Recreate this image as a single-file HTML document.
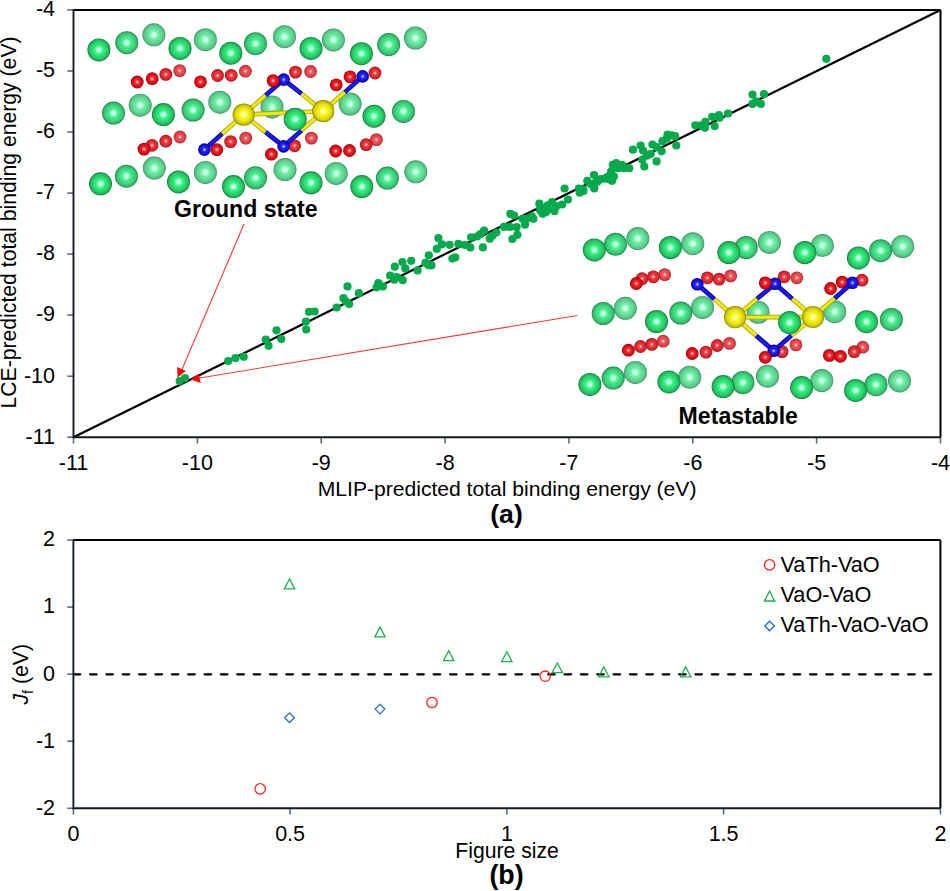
<!DOCTYPE html><html><head><meta charset="utf-8"><style>html,body{margin:0;padding:0;background:#fff;}svg{display:block;}</style></head><body><svg width="950" height="891" viewBox="0 0 950 891">
<defs><radialGradient id="gD" cx="50%" cy="50%" r="50%"><stop offset="0" stop-color="#eefffe"/><stop offset="0.13" stop-color="#d4fff4"/><stop offset="0.22" stop-color="#90ffc4"/><stop offset="0.32" stop-color="#46f88e"/><stop offset="0.42" stop-color="#34ec7c"/><stop offset="0.65" stop-color="#2ad66c"/><stop offset="0.85" stop-color="#22bc5c"/><stop offset="0.94" stop-color="#169848"/><stop offset="1" stop-color="#0a7434"/></radialGradient><radialGradient id="gM" cx="50%" cy="50%" r="50%"><stop offset="0" stop-color="#eefffe"/><stop offset="0.13" stop-color="#d8fff6"/><stop offset="0.22" stop-color="#9cffcc"/><stop offset="0.32" stop-color="#5cf69c"/><stop offset="0.42" stop-color="#4aea8c"/><stop offset="0.65" stop-color="#3ed67e"/><stop offset="0.85" stop-color="#34c06e"/><stop offset="0.94" stop-color="#279c58"/><stop offset="1" stop-color="#188044"/></radialGradient><radialGradient id="gL" cx="50%" cy="50%" r="50%"><stop offset="0" stop-color="#f0fffe"/><stop offset="0.13" stop-color="#dcfff8"/><stop offset="0.22" stop-color="#acffd6"/><stop offset="0.32" stop-color="#7ef6b0"/><stop offset="0.42" stop-color="#6eeca2"/><stop offset="0.65" stop-color="#62da94"/><stop offset="0.85" stop-color="#56c686"/><stop offset="0.94" stop-color="#48aa72"/><stop offset="1" stop-color="#2e8c5a"/></radialGradient><radialGradient id="rB" cx="50%" cy="50%" r="50%"><stop offset="0" stop-color="#ffe8e8"/><stop offset="0.1" stop-color="#ffc0c0"/><stop offset="0.22" stop-color="#ff5a5a"/><stop offset="0.38" stop-color="#fc2226"/><stop offset="0.62" stop-color="#e8101a"/><stop offset="0.84" stop-color="#c80a12"/><stop offset="0.94" stop-color="#a00410"/><stop offset="1" stop-color="#780006"/></radialGradient><radialGradient id="rM" cx="50%" cy="50%" r="50%"><stop offset="0" stop-color="#ffeaea"/><stop offset="0.1" stop-color="#ffc4c4"/><stop offset="0.22" stop-color="#ff6466"/><stop offset="0.38" stop-color="#f83438"/><stop offset="0.62" stop-color="#e62a30"/><stop offset="0.84" stop-color="#c82228"/><stop offset="0.94" stop-color="#a81820"/><stop offset="1" stop-color="#801418"/></radialGradient><radialGradient id="rL" cx="50%" cy="50%" r="50%"><stop offset="0" stop-color="#ffeeee"/><stop offset="0.1" stop-color="#ffcaca"/><stop offset="0.22" stop-color="#fe7476"/><stop offset="0.38" stop-color="#f45054"/><stop offset="0.62" stop-color="#e8484c"/><stop offset="0.84" stop-color="#cc3a3e"/><stop offset="0.94" stop-color="#b03036"/><stop offset="1" stop-color="#8a282e"/></radialGradient><radialGradient id="ye" cx="50%" cy="50%" r="50%"><stop offset="0" stop-color="#fffff4"/><stop offset="0.12" stop-color="#ffffc8"/><stop offset="0.22" stop-color="#ffff60"/><stop offset="0.36" stop-color="#f8f424"/><stop offset="0.66" stop-color="#e6e012"/><stop offset="0.86" stop-color="#c8c000"/><stop offset="1" stop-color="#888200"/></radialGradient><radialGradient id="bl" cx="50%" cy="50%" r="50%"><stop offset="0" stop-color="#e8e8ff"/><stop offset="0.1" stop-color="#b8b8ff"/><stop offset="0.22" stop-color="#5050ff"/><stop offset="0.38" stop-color="#2222fa"/><stop offset="0.66" stop-color="#1414e4"/><stop offset="0.86" stop-color="#0808bc"/><stop offset="1" stop-color="#00007a"/></radialGradient></defs>
<rect width="950" height="891" fill="#fff"/>
<circle cx="153.9" cy="34.8" r="11.5" fill="url(#gL)"/>
<circle cx="205.4" cy="39.7" r="11.5" fill="url(#gL)"/>
<circle cx="284.5" cy="36.7" r="11.5" fill="url(#gL)"/>
<circle cx="333.4" cy="39.9" r="11.5" fill="url(#gL)"/>
<circle cx="415.4" cy="38.0" r="11.5" fill="url(#gL)"/>
<circle cx="140.2" cy="105.2" r="11.5" fill="url(#gL)"/>
<circle cx="219.8" cy="102.2" r="11.5" fill="url(#gL)"/>
<circle cx="272.0" cy="106.9" r="11.5" fill="url(#gL)"/>
<circle cx="350.1" cy="104.0" r="11.5" fill="url(#gL)"/>
<circle cx="154.3" cy="168.1" r="11.5" fill="url(#gL)"/>
<circle cx="205.4" cy="172.4" r="11.5" fill="url(#gL)"/>
<circle cx="285.0" cy="169.6" r="11.5" fill="url(#gL)"/>
<circle cx="336.2" cy="173.4" r="11.5" fill="url(#gL)"/>
<circle cx="415.8" cy="171.8" r="11.5" fill="url(#gL)"/>
<circle cx="126.8" cy="42.7" r="11.5" fill="url(#gM)"/>
<circle cx="255.5" cy="43.7" r="11.5" fill="url(#gM)"/>
<circle cx="388.7" cy="44.6" r="11.5" fill="url(#gM)"/>
<circle cx="113.5" cy="113.1" r="11.5" fill="url(#gM)"/>
<circle cx="193.1" cy="110.0" r="11.5" fill="url(#gM)"/>
<circle cx="403.5" cy="111.4" r="11.5" fill="url(#gM)"/>
<circle cx="126.4" cy="176.2" r="11.5" fill="url(#gM)"/>
<circle cx="255.5" cy="177.8" r="11.5" fill="url(#gM)"/>
<circle cx="387.4" cy="178.1" r="11.5" fill="url(#gM)"/>
<circle cx="98.9" cy="49.9" r="11.5" fill="url(#gD)"/>
<circle cx="180.0" cy="48.4" r="11.5" fill="url(#gD)"/>
<circle cx="230.8" cy="53.2" r="11.5" fill="url(#gD)"/>
<circle cx="311.0" cy="48.4" r="11.5" fill="url(#gD)"/>
<circle cx="361.4" cy="53.7" r="11.5" fill="url(#gD)"/>
<circle cx="163.4" cy="114.6" r="11.5" fill="url(#gD)"/>
<circle cx="374.0" cy="116.2" r="11.5" fill="url(#gD)"/>
<circle cx="100.5" cy="183.8" r="11.5" fill="url(#gD)"/>
<circle cx="178.5" cy="181.9" r="11.5" fill="url(#gD)"/>
<circle cx="233.5" cy="186.6" r="11.5" fill="url(#gD)"/>
<circle cx="311.0" cy="182.8" r="11.5" fill="url(#gD)"/>
<circle cx="361.8" cy="186.6" r="11.5" fill="url(#gD)"/>
<circle cx="179.7" cy="70.6" r="6.4" fill="url(#rL)"/>
<circle cx="245.4" cy="71.2" r="6.4" fill="url(#rL)"/>
<circle cx="310.6" cy="71.5" r="6.4" fill="url(#rL)"/>
<circle cx="180.0" cy="137.0" r="6.4" fill="url(#rL)"/>
<circle cx="245.8" cy="138.1" r="6.4" fill="url(#rL)"/>
<circle cx="311.4" cy="138.1" r="6.4" fill="url(#rL)"/>
<circle cx="376.4" cy="139.6" r="6.4" fill="url(#rL)"/>
<circle cx="165.8" cy="74.4" r="6.4" fill="url(#rM)"/>
<circle cx="217.6" cy="75.5" r="6.4" fill="url(#rM)"/>
<circle cx="231.2" cy="75.3" r="6.4" fill="url(#rM)"/>
<circle cx="295.5" cy="72.1" r="6.4" fill="url(#rM)"/>
<circle cx="375.0" cy="73.0" r="6.4" fill="url(#rM)"/>
<circle cx="152.0" cy="145.3" r="6.4" fill="url(#rM)"/>
<circle cx="165.8" cy="141.2" r="6.4" fill="url(#rM)"/>
<circle cx="230.6" cy="141.6" r="6.4" fill="url(#rM)"/>
<circle cx="294.6" cy="145.8" r="6.4" fill="url(#rM)"/>
<circle cx="366.2" cy="144.6" r="6.4" fill="url(#rM)"/>
<circle cx="137.2" cy="82.0" r="6.4" fill="url(#rB)"/>
<circle cx="152.2" cy="78.7" r="6.4" fill="url(#rB)"/>
<circle cx="200.5" cy="81.8" r="6.4" fill="url(#rB)"/>
<circle cx="336.2" cy="84.8" r="6.4" fill="url(#rB)"/>
<circle cx="350.0" cy="76.8" r="6.4" fill="url(#rB)"/>
<circle cx="144.0" cy="149.1" r="6.4" fill="url(#rB)"/>
<circle cx="216.8" cy="149.6" r="6.4" fill="url(#rB)"/>
<circle cx="271.4" cy="154.2" r="6.4" fill="url(#rB)"/>
<circle cx="335.7" cy="151.0" r="6.4" fill="url(#rB)"/>
<circle cx="349.5" cy="150.5" r="6.4" fill="url(#rB)"/>
<line x1="243.7" y1="114.6" x2="265.7" y2="95.3" stroke="#a8a000" stroke-width="4.6"/>
<line x1="243.7" y1="114.6" x2="265.7" y2="95.3" stroke="#f0ea10" stroke-width="3.0"/>
<line x1="265.7" y1="95.3" x2="283.7" y2="79.6" stroke="#0000a0" stroke-width="4.6"/>
<line x1="265.7" y1="95.3" x2="283.7" y2="79.6" stroke="#1a1aee" stroke-width="3.0"/>
<line x1="323.2" y1="111.2" x2="301.5" y2="93.8" stroke="#a8a000" stroke-width="4.6"/>
<line x1="323.2" y1="111.2" x2="301.5" y2="93.8" stroke="#f0ea10" stroke-width="3.0"/>
<line x1="301.5" y1="93.8" x2="283.7" y2="79.6" stroke="#0000a0" stroke-width="4.6"/>
<line x1="301.5" y1="93.8" x2="283.7" y2="79.6" stroke="#1a1aee" stroke-width="3.0"/>
<line x1="243.7" y1="114.6" x2="265.6" y2="132.1" stroke="#a8a000" stroke-width="4.6"/>
<line x1="243.7" y1="114.6" x2="265.6" y2="132.1" stroke="#f0ea10" stroke-width="3.0"/>
<line x1="265.6" y1="132.1" x2="283.6" y2="146.4" stroke="#0000a0" stroke-width="4.6"/>
<line x1="265.6" y1="132.1" x2="283.6" y2="146.4" stroke="#1a1aee" stroke-width="3.0"/>
<line x1="323.2" y1="111.2" x2="301.4" y2="130.6" stroke="#a8a000" stroke-width="4.6"/>
<line x1="323.2" y1="111.2" x2="301.4" y2="130.6" stroke="#f0ea10" stroke-width="3.0"/>
<line x1="301.4" y1="130.6" x2="283.6" y2="146.4" stroke="#0000a0" stroke-width="4.6"/>
<line x1="301.4" y1="130.6" x2="283.6" y2="146.4" stroke="#1a1aee" stroke-width="3.0"/>
<line x1="243.7" y1="114.6" x2="222.1" y2="133.8" stroke="#a8a000" stroke-width="4.6"/>
<line x1="243.7" y1="114.6" x2="222.1" y2="133.8" stroke="#f0ea10" stroke-width="3.0"/>
<line x1="222.1" y1="133.8" x2="204.4" y2="149.6" stroke="#0000a0" stroke-width="4.6"/>
<line x1="222.1" y1="133.8" x2="204.4" y2="149.6" stroke="#1a1aee" stroke-width="3.0"/>
<line x1="323.2" y1="111.2" x2="344.9" y2="92.1" stroke="#a8a000" stroke-width="4.6"/>
<line x1="323.2" y1="111.2" x2="344.9" y2="92.1" stroke="#f0ea10" stroke-width="3.0"/>
<line x1="344.9" y1="92.1" x2="362.7" y2="76.4" stroke="#0000a0" stroke-width="4.6"/>
<line x1="344.9" y1="92.1" x2="362.7" y2="76.4" stroke="#1a1aee" stroke-width="3.0"/>
<line x1="243.7" y1="114.6" x2="283.4" y2="112.9" stroke="#a8a000" stroke-width="4.6"/>
<line x1="243.7" y1="114.6" x2="283.4" y2="112.9" stroke="#f0ea10" stroke-width="3.0"/>
<line x1="283.4" y1="112.9" x2="323.2" y2="111.2" stroke="#a8a000" stroke-width="4.6"/>
<line x1="283.4" y1="112.9" x2="323.2" y2="111.2" stroke="#f0ea10" stroke-width="3.0"/>
<circle cx="283.7" cy="79.6" r="6.3" fill="url(#bl)"/>
<circle cx="362.7" cy="76.4" r="6.3" fill="url(#bl)"/>
<circle cx="204.4" cy="149.6" r="6.3" fill="url(#bl)"/>
<circle cx="283.6" cy="146.4" r="6.3" fill="url(#bl)"/>
<circle cx="243.7" cy="114.6" r="11.1" fill="url(#ye)"/>
<circle cx="323.2" cy="111.2" r="11.1" fill="url(#ye)"/>
<circle cx="295.2" cy="119.2" r="11.5" fill="url(#gD)"/>
<circle cx="273.1" cy="80.6" r="6.4" fill="url(#rB)"/>
<circle cx="637.8" cy="238.6" r="11.5" fill="url(#gL)"/>
<circle cx="692.8" cy="243.7" r="11.5" fill="url(#gL)"/>
<circle cx="769.4" cy="242.4" r="11.5" fill="url(#gL)"/>
<circle cx="822.4" cy="245.6" r="11.5" fill="url(#gL)"/>
<circle cx="902.6" cy="246.5" r="11.5" fill="url(#gL)"/>
<circle cx="625.3" cy="308.3" r="11.5" fill="url(#gL)"/>
<circle cx="702.6" cy="307.4" r="11.5" fill="url(#gL)"/>
<circle cx="758.1" cy="312.3" r="11.5" fill="url(#gL)"/>
<circle cx="834.7" cy="311.7" r="11.5" fill="url(#gL)"/>
<circle cx="635.4" cy="372.4" r="11.5" fill="url(#gL)"/>
<circle cx="689.7" cy="377.2" r="11.5" fill="url(#gL)"/>
<circle cx="767.5" cy="376.2" r="11.5" fill="url(#gL)"/>
<circle cx="821.8" cy="380.6" r="11.5" fill="url(#gL)"/>
<circle cx="899.5" cy="380.9" r="11.5" fill="url(#gL)"/>
<circle cx="615.5" cy="244.3" r="11.5" fill="url(#gM)"/>
<circle cx="746.2" cy="247.5" r="11.5" fill="url(#gM)"/>
<circle cx="880.6" cy="250.7" r="11.5" fill="url(#gM)"/>
<circle cx="603.2" cy="313.5" r="11.5" fill="url(#gM)"/>
<circle cx="680.8" cy="313.0" r="11.5" fill="url(#gM)"/>
<circle cx="891.4" cy="319.4" r="11.5" fill="url(#gM)"/>
<circle cx="613.2" cy="378.1" r="11.5" fill="url(#gM)"/>
<circle cx="742.9" cy="382.5" r="11.5" fill="url(#gM)"/>
<circle cx="876.0" cy="384.7" r="11.5" fill="url(#gM)"/>
<circle cx="594.3" cy="249.9" r="11.5" fill="url(#gD)"/>
<circle cx="670.4" cy="247.5" r="11.5" fill="url(#gD)"/>
<circle cx="728.8" cy="252.6" r="11.5" fill="url(#gD)"/>
<circle cx="804.8" cy="252.6" r="11.5" fill="url(#gD)"/>
<circle cx="858.4" cy="257.9" r="11.5" fill="url(#gD)"/>
<circle cx="656.5" cy="321.5" r="11.5" fill="url(#gD)"/>
<circle cx="866.5" cy="321.7" r="11.5" fill="url(#gD)"/>
<circle cx="589.9" cy="384.4" r="11.5" fill="url(#gD)"/>
<circle cx="668.9" cy="381.9" r="11.5" fill="url(#gD)"/>
<circle cx="723.1" cy="386.6" r="11.5" fill="url(#gD)"/>
<circle cx="801.6" cy="387.6" r="11.5" fill="url(#gD)"/>
<circle cx="855.6" cy="390.4" r="11.5" fill="url(#gD)"/>
<circle cx="664.7" cy="274.6" r="6.4" fill="url(#rL)"/>
<circle cx="730.7" cy="275.9" r="6.4" fill="url(#rL)"/>
<circle cx="796.8" cy="277.8" r="6.4" fill="url(#rL)"/>
<circle cx="663.2" cy="341.2" r="6.4" fill="url(#rL)"/>
<circle cx="729.5" cy="343.4" r="6.4" fill="url(#rL)"/>
<circle cx="795.9" cy="344.9" r="6.4" fill="url(#rL)"/>
<circle cx="862.8" cy="347.2" r="6.4" fill="url(#rL)"/>
<circle cx="642.0" cy="278.7" r="6.4" fill="url(#rM)"/>
<circle cx="653.4" cy="276.8" r="6.4" fill="url(#rM)"/>
<circle cx="707.4" cy="277.8" r="6.4" fill="url(#rM)"/>
<circle cx="719.1" cy="279.1" r="6.4" fill="url(#rM)"/>
<circle cx="784.1" cy="276.8" r="6.4" fill="url(#rM)"/>
<circle cx="862.0" cy="280.2" r="6.4" fill="url(#rM)"/>
<circle cx="640.5" cy="346.5" r="6.4" fill="url(#rM)"/>
<circle cx="651.8" cy="344.4" r="6.4" fill="url(#rM)"/>
<circle cx="706.0" cy="352.1" r="6.4" fill="url(#rM)"/>
<circle cx="717.2" cy="345.5" r="6.4" fill="url(#rM)"/>
<circle cx="782.1" cy="351.6" r="6.4" fill="url(#rM)"/>
<circle cx="854.2" cy="351.6" r="6.4" fill="url(#rM)"/>
<circle cx="636.3" cy="283.5" r="6.4" fill="url(#rB)"/>
<circle cx="830.6" cy="288.5" r="6.4" fill="url(#rB)"/>
<circle cx="842.2" cy="282.1" r="6.4" fill="url(#rB)"/>
<circle cx="628.4" cy="350.2" r="6.4" fill="url(#rB)"/>
<circle cx="692.2" cy="353.5" r="6.4" fill="url(#rB)"/>
<circle cx="829.4" cy="355.4" r="6.4" fill="url(#rB)"/>
<circle cx="840.4" cy="356.3" r="6.4" fill="url(#rB)"/>
<line x1="735.1" y1="317.2" x2="757.1" y2="298.8" stroke="#a8a000" stroke-width="4.6"/>
<line x1="735.1" y1="317.2" x2="757.1" y2="298.8" stroke="#f0ea10" stroke-width="3.0"/>
<line x1="757.1" y1="298.8" x2="775.1" y2="283.8" stroke="#0000a0" stroke-width="4.6"/>
<line x1="757.1" y1="298.8" x2="775.1" y2="283.8" stroke="#1a1aee" stroke-width="3.0"/>
<line x1="813.0" y1="317.0" x2="792.2" y2="298.7" stroke="#a8a000" stroke-width="4.6"/>
<line x1="813.0" y1="317.0" x2="792.2" y2="298.7" stroke="#f0ea10" stroke-width="3.0"/>
<line x1="792.2" y1="298.7" x2="775.1" y2="283.8" stroke="#0000a0" stroke-width="4.6"/>
<line x1="792.2" y1="298.7" x2="775.1" y2="283.8" stroke="#1a1aee" stroke-width="3.0"/>
<line x1="735.1" y1="317.2" x2="756.3" y2="335.7" stroke="#a8a000" stroke-width="4.6"/>
<line x1="735.1" y1="317.2" x2="756.3" y2="335.7" stroke="#f0ea10" stroke-width="3.0"/>
<line x1="756.3" y1="335.7" x2="773.7" y2="350.8" stroke="#0000a0" stroke-width="4.6"/>
<line x1="756.3" y1="335.7" x2="773.7" y2="350.8" stroke="#1a1aee" stroke-width="3.0"/>
<line x1="813.0" y1="317.0" x2="791.4" y2="335.6" stroke="#a8a000" stroke-width="4.6"/>
<line x1="813.0" y1="317.0" x2="791.4" y2="335.6" stroke="#f0ea10" stroke-width="3.0"/>
<line x1="791.4" y1="335.6" x2="773.7" y2="350.8" stroke="#0000a0" stroke-width="4.6"/>
<line x1="791.4" y1="335.6" x2="773.7" y2="350.8" stroke="#1a1aee" stroke-width="3.0"/>
<line x1="735.1" y1="317.2" x2="714.3" y2="299.1" stroke="#a8a000" stroke-width="4.6"/>
<line x1="735.1" y1="317.2" x2="714.3" y2="299.1" stroke="#f0ea10" stroke-width="3.0"/>
<line x1="714.3" y1="299.1" x2="697.3" y2="284.3" stroke="#0000a0" stroke-width="4.6"/>
<line x1="714.3" y1="299.1" x2="697.3" y2="284.3" stroke="#1a1aee" stroke-width="3.0"/>
<line x1="813.0" y1="317.0" x2="834.7" y2="298.2" stroke="#a8a000" stroke-width="4.6"/>
<line x1="813.0" y1="317.0" x2="834.7" y2="298.2" stroke="#f0ea10" stroke-width="3.0"/>
<line x1="834.7" y1="298.2" x2="852.5" y2="282.8" stroke="#0000a0" stroke-width="4.6"/>
<line x1="834.7" y1="298.2" x2="852.5" y2="282.8" stroke="#1a1aee" stroke-width="3.0"/>
<line x1="735.1" y1="317.2" x2="774.0" y2="317.1" stroke="#a8a000" stroke-width="4.6"/>
<line x1="735.1" y1="317.2" x2="774.0" y2="317.1" stroke="#f0ea10" stroke-width="3.0"/>
<line x1="774.0" y1="317.1" x2="813.0" y2="317.0" stroke="#a8a000" stroke-width="4.6"/>
<line x1="774.0" y1="317.1" x2="813.0" y2="317.0" stroke="#f0ea10" stroke-width="3.0"/>
<circle cx="775.1" cy="283.8" r="6.3" fill="url(#bl)"/>
<circle cx="852.5" cy="282.8" r="6.3" fill="url(#bl)"/>
<circle cx="697.3" cy="284.3" r="6.3" fill="url(#bl)"/>
<circle cx="773.7" cy="350.8" r="6.3" fill="url(#bl)"/>
<circle cx="735.1" cy="317.2" r="11.1" fill="url(#ye)"/>
<circle cx="813.0" cy="317.0" r="11.1" fill="url(#ye)"/>
<circle cx="789.6" cy="322.6" r="11.5" fill="url(#gD)"/>
<circle cx="765.3" cy="282.9" r="6.4" fill="url(#rB)"/>
<circle cx="765.3" cy="357.3" r="6.4" fill="url(#rB)"/>
<text x="245.8" y="216.5" font-family="Liberation Sans, sans-serif" font-weight="bold" font-size="23.1" text-anchor="middle" fill="#000">Ground state</text>
<text x="738.3" y="423.7" font-family="Liberation Sans, sans-serif" font-weight="bold" font-size="23.1" text-anchor="middle" fill="#000">Metastable</text>
<line x1="73.5" y1="437.2" x2="940.5" y2="9.95" stroke="#000" stroke-width="2.2"/>
<line x1="244" y1="224" x2="181.5" y2="370.5" stroke="#ff3838" stroke-width="1.1"/>
<polygon points="177.1,367.1 185.8,371.1 177.6,377.6" fill="#ff0000"/>
<line x1="577.2" y1="315.5" x2="198" y2="378.3" stroke="#ff3838" stroke-width="1.1"/>
<polygon points="198.7,373.7 200.8,382.9 190.8,379.5" fill="#ff0000"/>
<circle cx="179.7" cy="381.1" r="4.1" fill="#03aa4c"/>
<circle cx="185" cy="378.2" r="4.1" fill="#03aa4c"/>
<circle cx="228.2" cy="361" r="4.1" fill="#03aa4c"/>
<circle cx="235.5" cy="358.1" r="4.1" fill="#03aa4c"/>
<circle cx="243.7" cy="356.8" r="4.1" fill="#03aa4c"/>
<circle cx="265.8" cy="339.6" r="4.1" fill="#03aa4c"/>
<circle cx="268.6" cy="345.8" r="4.1" fill="#03aa4c"/>
<circle cx="276.5" cy="330.3" r="4.1" fill="#03aa4c"/>
<circle cx="281.3" cy="339.1" r="4.1" fill="#03aa4c"/>
<circle cx="305.9" cy="321.6" r="4.1" fill="#03aa4c"/>
<circle cx="306.2" cy="329.5" r="4.1" fill="#03aa4c"/>
<circle cx="309" cy="311.8" r="4.1" fill="#03aa4c"/>
<circle cx="314.6" cy="311.5" r="4.1" fill="#03aa4c"/>
<circle cx="336.7" cy="307.5" r="4.1" fill="#03aa4c"/>
<circle cx="343.5" cy="298.2" r="4.1" fill="#03aa4c"/>
<circle cx="347.5" cy="286.4" r="4.1" fill="#03aa4c"/>
<circle cx="349.2" cy="304.1" r="4.1" fill="#03aa4c"/>
<circle cx="358.9" cy="293.2" r="4.1" fill="#03aa4c"/>
<circle cx="376.6" cy="287.3" r="4.1" fill="#03aa4c"/>
<circle cx="378.3" cy="283.1" r="4.1" fill="#03aa4c"/>
<circle cx="382.9" cy="286.4" r="4.1" fill="#03aa4c"/>
<circle cx="390.1" cy="275.5" r="4.1" fill="#03aa4c"/>
<circle cx="394.3" cy="279.7" r="4.1" fill="#03aa4c"/>
<circle cx="396.8" cy="277.2" r="4.1" fill="#03aa4c"/>
<circle cx="394.8" cy="266.7" r="4.1" fill="#03aa4c"/>
<circle cx="402.4" cy="262" r="4.1" fill="#03aa4c"/>
<circle cx="405.3" cy="268.4" r="4.1" fill="#03aa4c"/>
<circle cx="402.7" cy="280.2" r="4.1" fill="#03aa4c"/>
<circle cx="411.2" cy="260.8" r="4.1" fill="#03aa4c"/>
<circle cx="417.6" cy="270.4" r="4.1" fill="#03aa4c"/>
<circle cx="425.5" cy="262.8" r="4.1" fill="#03aa4c"/>
<circle cx="428.8" cy="255.3" r="4.1" fill="#03aa4c"/>
<circle cx="431.4" cy="265.4" r="4.1" fill="#03aa4c"/>
<circle cx="436.8" cy="248.9" r="4.1" fill="#03aa4c"/>
<circle cx="438.4" cy="238.1" r="4.1" fill="#03aa4c"/>
<circle cx="442" cy="244.3" r="4.1" fill="#03aa4c"/>
<circle cx="449.6" cy="244.8" r="4.1" fill="#03aa4c"/>
<circle cx="452.4" cy="258.6" r="4.1" fill="#03aa4c"/>
<circle cx="458.3" cy="243.8" r="4.1" fill="#03aa4c"/>
<circle cx="464.9" cy="244.9" r="4.1" fill="#03aa4c"/>
<circle cx="470.3" cy="247.4" r="4.1" fill="#03aa4c"/>
<circle cx="471.1" cy="237.3" r="4.1" fill="#03aa4c"/>
<circle cx="477" cy="236.5" r="4.1" fill="#03aa4c"/>
<circle cx="480.4" cy="234" r="4.1" fill="#03aa4c"/>
<circle cx="484.1" cy="230.6" r="4.1" fill="#03aa4c"/>
<circle cx="482.9" cy="247.4" r="4.1" fill="#03aa4c"/>
<circle cx="489.7" cy="238.7" r="4.1" fill="#03aa4c"/>
<circle cx="492.2" cy="235.7" r="4.1" fill="#03aa4c"/>
<circle cx="496.4" cy="232.6" r="4.1" fill="#03aa4c"/>
<circle cx="504" cy="226.9" r="4.1" fill="#03aa4c"/>
<circle cx="510.4" cy="213.8" r="4.1" fill="#03aa4c"/>
<circle cx="514.1" cy="215.5" r="4.1" fill="#03aa4c"/>
<circle cx="509.9" cy="226.9" r="4.1" fill="#03aa4c"/>
<circle cx="516.6" cy="227.2" r="4.1" fill="#03aa4c"/>
<circle cx="517.4" cy="234.8" r="4.1" fill="#03aa4c"/>
<circle cx="512.4" cy="239" r="4.1" fill="#03aa4c"/>
<circle cx="522.5" cy="218.8" r="4.1" fill="#03aa4c"/>
<circle cx="525" cy="224.7" r="4.1" fill="#03aa4c"/>
<circle cx="526.7" cy="218.8" r="4.1" fill="#03aa4c"/>
<circle cx="531.8" cy="216.3" r="4.1" fill="#03aa4c"/>
<circle cx="533.4" cy="218.8" r="4.1" fill="#03aa4c"/>
<circle cx="539.3" cy="203.7" r="4.1" fill="#03aa4c"/>
<circle cx="540.2" cy="210.4" r="4.1" fill="#03aa4c"/>
<circle cx="542.7" cy="213.8" r="4.1" fill="#03aa4c"/>
<circle cx="546.1" cy="212.1" r="4.1" fill="#03aa4c"/>
<circle cx="547.7" cy="205.4" r="4.1" fill="#03aa4c"/>
<circle cx="552" cy="202" r="4.1" fill="#03aa4c"/>
<circle cx="554.5" cy="211.2" r="4.1" fill="#03aa4c"/>
<circle cx="556.2" cy="206.2" r="4.1" fill="#03aa4c"/>
<circle cx="562.1" cy="204.5" r="4.1" fill="#03aa4c"/>
<circle cx="564.6" cy="188.5" r="4.1" fill="#03aa4c"/>
<circle cx="568" cy="199.5" r="4.1" fill="#03aa4c"/>
<circle cx="578.9" cy="188.5" r="4.1" fill="#03aa4c"/>
<circle cx="579.7" cy="192.7" r="4.1" fill="#03aa4c"/>
<circle cx="583.1" cy="189.4" r="4.1" fill="#03aa4c"/>
<circle cx="587.3" cy="180.9" r="4.1" fill="#03aa4c"/>
<circle cx="594" cy="175" r="4.1" fill="#03aa4c"/>
<circle cx="594" cy="187.7" r="4.1" fill="#03aa4c"/>
<circle cx="597.4" cy="181.8" r="4.1" fill="#03aa4c"/>
<circle cx="583.4" cy="190.9" r="4.1" fill="#03aa4c"/>
<circle cx="590.9" cy="184.2" r="4.1" fill="#03aa4c"/>
<circle cx="594.3" cy="188.4" r="4.1" fill="#03aa4c"/>
<circle cx="596.8" cy="180.8" r="4.1" fill="#03aa4c"/>
<circle cx="601" cy="179.1" r="4.1" fill="#03aa4c"/>
<circle cx="608.6" cy="179.1" r="4.1" fill="#03aa4c"/>
<circle cx="612" cy="180.8" r="4.1" fill="#03aa4c"/>
<circle cx="611.1" cy="171.5" r="4.1" fill="#03aa4c"/>
<circle cx="612.8" cy="164.8" r="4.1" fill="#03aa4c"/>
<circle cx="616.2" cy="163.1" r="4.1" fill="#03aa4c"/>
<circle cx="617.9" cy="168.2" r="4.1" fill="#03aa4c"/>
<circle cx="622.1" cy="164.8" r="4.1" fill="#03aa4c"/>
<circle cx="623.8" cy="168.2" r="4.1" fill="#03aa4c"/>
<circle cx="629.2" cy="168.2" r="4.1" fill="#03aa4c"/>
<circle cx="633" cy="149.7" r="4.1" fill="#03aa4c"/>
<circle cx="640.6" cy="145.5" r="4.1" fill="#03aa4c"/>
<circle cx="643.1" cy="150.5" r="4.1" fill="#03aa4c"/>
<circle cx="642.3" cy="159.8" r="4.1" fill="#03aa4c"/>
<circle cx="644.3" cy="166.5" r="4.1" fill="#03aa4c"/>
<circle cx="647.3" cy="155.6" r="4.1" fill="#03aa4c"/>
<circle cx="650.7" cy="153.9" r="4.1" fill="#03aa4c"/>
<circle cx="652.4" cy="144.6" r="4.1" fill="#03aa4c"/>
<circle cx="656.6" cy="147.1" r="4.1" fill="#03aa4c"/>
<circle cx="656.6" cy="161.4" r="4.1" fill="#03aa4c"/>
<circle cx="661.6" cy="151.3" r="4.1" fill="#03aa4c"/>
<circle cx="662.5" cy="141.2" r="4.1" fill="#03aa4c"/>
<circle cx="666.7" cy="138.7" r="4.1" fill="#03aa4c"/>
<circle cx="667.5" cy="134.5" r="4.1" fill="#03aa4c"/>
<circle cx="671.8" cy="135.4" r="4.1" fill="#03aa4c"/>
<circle cx="675.1" cy="136.2" r="4.1" fill="#03aa4c"/>
<circle cx="676.3" cy="145.5" r="4.1" fill="#03aa4c"/>
<circle cx="695.3" cy="125.3" r="4.1" fill="#03aa4c"/>
<circle cx="701.2" cy="125.3" r="4.1" fill="#03aa4c"/>
<circle cx="705.4" cy="121.9" r="4.1" fill="#03aa4c"/>
<circle cx="704.9" cy="127.8" r="4.1" fill="#03aa4c"/>
<circle cx="712.2" cy="116.8" r="4.1" fill="#03aa4c"/>
<circle cx="714.7" cy="126.1" r="4.1" fill="#03aa4c"/>
<circle cx="718.9" cy="115.2" r="4.1" fill="#03aa4c"/>
<circle cx="719.7" cy="117.7" r="4.1" fill="#03aa4c"/>
<circle cx="728.1" cy="113.5" r="4.1" fill="#03aa4c"/>
<circle cx="346" cy="301.5" r="4.1" fill="#03aa4c"/>
<circle cx="614" cy="176.5" r="4.1" fill="#03aa4c"/>
<circle cx="540.5" cy="207.5" r="4.1" fill="#03aa4c"/>
<circle cx="548" cy="209" r="4.1" fill="#03aa4c"/>
<circle cx="605" cy="178.5" r="4.1" fill="#03aa4c"/>
<circle cx="609.5" cy="175.5" r="4.1" fill="#03aa4c"/>
<circle cx="428.6" cy="265.2" r="4.1" fill="#03aa4c"/>
<circle cx="455.2" cy="257.4" r="4.1" fill="#03aa4c"/>
<circle cx="752.5" cy="94.6" r="4.1" fill="#03aa4c"/>
<circle cx="752.5" cy="103.9" r="4.1" fill="#03aa4c"/>
<circle cx="756.4" cy="101.3" r="4.1" fill="#03aa4c"/>
<circle cx="760.9" cy="103.9" r="4.1" fill="#03aa4c"/>
<circle cx="764" cy="94.1" r="4.1" fill="#03aa4c"/>
<circle cx="826.3" cy="58.8" r="4.1" fill="#03aa4c"/>
<line x1="67.3" y1="437.2" x2="73.5" y2="437.2" stroke="#5e6c84" stroke-width="1.6"/>
<text x="55.0" y="443.5" font-family="Liberation Sans, sans-serif" font-size="21.5" text-anchor="end" fill="#000">-11</text>
<line x1="73.5" y1="437.2" x2="73.5" y2="443.6" stroke="#5e6c84" stroke-width="1.6"/>
<text x="73.5" y="469.5" font-family="Liberation Sans, sans-serif" font-size="21.5" text-anchor="middle" fill="#000">-11</text>
<line x1="67.3" y1="376.2" x2="73.5" y2="376.2" stroke="#5e6c84" stroke-width="1.6"/>
<text x="55.0" y="382.5" font-family="Liberation Sans, sans-serif" font-size="21.5" text-anchor="end" fill="#000">-10</text>
<line x1="197.4" y1="437.2" x2="197.4" y2="443.6" stroke="#5e6c84" stroke-width="1.6"/>
<text x="197.4" y="469.5" font-family="Liberation Sans, sans-serif" font-size="21.5" text-anchor="middle" fill="#000">-10</text>
<line x1="67.3" y1="315.1" x2="73.5" y2="315.1" stroke="#5e6c84" stroke-width="1.6"/>
<text x="55.0" y="321.4" font-family="Liberation Sans, sans-serif" font-size="21.5" text-anchor="end" fill="#000">-9</text>
<line x1="321.2" y1="437.2" x2="321.2" y2="443.6" stroke="#5e6c84" stroke-width="1.6"/>
<text x="321.2" y="469.5" font-family="Liberation Sans, sans-serif" font-size="21.5" text-anchor="middle" fill="#000">-9</text>
<line x1="67.3" y1="254.1" x2="73.5" y2="254.1" stroke="#5e6c84" stroke-width="1.6"/>
<text x="55.0" y="260.4" font-family="Liberation Sans, sans-serif" font-size="21.5" text-anchor="end" fill="#000">-8</text>
<line x1="445.1" y1="437.2" x2="445.1" y2="443.6" stroke="#5e6c84" stroke-width="1.6"/>
<text x="445.1" y="469.5" font-family="Liberation Sans, sans-serif" font-size="21.5" text-anchor="middle" fill="#000">-8</text>
<line x1="67.3" y1="193.1" x2="73.5" y2="193.1" stroke="#5e6c84" stroke-width="1.6"/>
<text x="55.0" y="199.4" font-family="Liberation Sans, sans-serif" font-size="21.5" text-anchor="end" fill="#000">-7</text>
<line x1="568.9" y1="437.2" x2="568.9" y2="443.6" stroke="#5e6c84" stroke-width="1.6"/>
<text x="568.9" y="469.5" font-family="Liberation Sans, sans-serif" font-size="21.5" text-anchor="middle" fill="#000">-7</text>
<line x1="67.3" y1="132.0" x2="73.5" y2="132.0" stroke="#5e6c84" stroke-width="1.6"/>
<text x="55.0" y="138.3" font-family="Liberation Sans, sans-serif" font-size="21.5" text-anchor="end" fill="#000">-6</text>
<line x1="692.8" y1="437.2" x2="692.8" y2="443.6" stroke="#5e6c84" stroke-width="1.6"/>
<text x="692.8" y="469.5" font-family="Liberation Sans, sans-serif" font-size="21.5" text-anchor="middle" fill="#000">-6</text>
<line x1="67.3" y1="71.0" x2="73.5" y2="71.0" stroke="#5e6c84" stroke-width="1.6"/>
<text x="55.0" y="77.3" font-family="Liberation Sans, sans-serif" font-size="21.5" text-anchor="end" fill="#000">-5</text>
<line x1="816.6" y1="437.2" x2="816.6" y2="443.6" stroke="#5e6c84" stroke-width="1.6"/>
<text x="816.6" y="469.5" font-family="Liberation Sans, sans-serif" font-size="21.5" text-anchor="middle" fill="#000">-5</text>
<line x1="67.3" y1="9.9" x2="73.5" y2="9.9" stroke="#5e6c84" stroke-width="1.6"/>
<text x="55.0" y="16.2" font-family="Liberation Sans, sans-serif" font-size="21.5" text-anchor="end" fill="#000">-4</text>
<line x1="940.5" y1="437.2" x2="940.5" y2="443.6" stroke="#5e6c84" stroke-width="1.6"/>
<text x="940.5" y="469.5" font-family="Liberation Sans, sans-serif" font-size="21.5" text-anchor="middle" fill="#000">-4</text>
<line x1="73.5" y1="9.95" x2="940.5" y2="9.95" stroke="#000" stroke-width="2"/>
<line x1="940.5" y1="9.95" x2="940.5" y2="437.2" stroke="#000" stroke-width="2"/>
<line x1="73.5" y1="9.25" x2="73.5" y2="437.9" stroke="#121a28" stroke-width="1.9"/>
<line x1="72.8" y1="437.2" x2="940.5" y2="437.2" stroke="#121a28" stroke-width="1.9"/>
<text x="507.1" y="495.6" font-family="Liberation Sans, sans-serif" font-size="21.1" text-anchor="middle" fill="#000">MLIP-predicted total binding energy (eV)</text>
<text transform="translate(16.3,222.5) rotate(-90)" x="0" y="0" font-family="Liberation Sans, sans-serif" font-size="21.2" text-anchor="middle" fill="#000">LCE-predicted total binding energy (eV)</text>
<text x="506.5" y="523.2" font-family="Liberation Sans, sans-serif" font-weight="bold" font-size="26.6" text-anchor="middle" fill="#000">(a)</text>
<line x1="73.4" y1="674.3" x2="938.9" y2="674.3" stroke="#000" stroke-width="2.3" stroke-dasharray="6.5 9.862" stroke-linecap="round" stroke-dashoffset="-0.29"/>
<circle cx="260.2" cy="788.9" r="5.2" fill="none" stroke="#f22" stroke-width="1.3"/>
<circle cx="432" cy="702.5" r="5.2" fill="none" stroke="#f22" stroke-width="1.3"/>
<circle cx="545.2" cy="676.2" r="5.2" fill="none" stroke="#f22" stroke-width="1.3"/>
<polygon points="289.5,579.0 284.3,588.9 294.7,588.9" fill="none" stroke="#1db053" stroke-width="1.3"/>
<polygon points="380.0,627.0 374.8,636.9 385.2,636.9" fill="none" stroke="#1db053" stroke-width="1.3"/>
<polygon points="448.7,650.7 443.5,660.6 453.9,660.6" fill="none" stroke="#1db053" stroke-width="1.3"/>
<polygon points="506.8,651.7 501.6,661.6 512.0,661.6" fill="none" stroke="#1db053" stroke-width="1.3"/>
<polygon points="557.3,662.8 552.1,672.7 562.5,672.7" fill="none" stroke="#1db053" stroke-width="1.3"/>
<polygon points="603.8,666.9 598.6,676.8 609.0,676.8" fill="none" stroke="#1db053" stroke-width="1.3"/>
<polygon points="685.7,666.9 680.5,676.8 690.9,676.8" fill="none" stroke="#1db053" stroke-width="1.3"/>
<polygon points="289.5,712.9 294.3,717.7 289.5,722.5 284.7,717.7" fill="none" stroke="#1f6fc8" stroke-width="1.3"/>
<polygon points="380.0,704.3 384.8,709.1 380.0,713.9 375.2,709.1" fill="none" stroke="#1f6fc8" stroke-width="1.3"/>
<circle cx="769.6" cy="564.9" r="5.2" fill="none" stroke="#f22" stroke-width="1.3"/>
<polygon points="769.6,591.1 764.4,601.0 774.8,601.0" fill="none" stroke="#1db053" stroke-width="1.3"/>
<polygon points="769.6,621.2 774.4,626.0 769.6,630.8 764.8,626.0" fill="none" stroke="#1f6fc8" stroke-width="1.3"/>
<text x="780.5" y="572" font-family="Liberation Sans, sans-serif" font-size="21.7" fill="#000">VaTh-VaO</text>
<text x="780.5" y="601.7" font-family="Liberation Sans, sans-serif" font-size="21.7" fill="#000">VaO-VaO</text>
<text x="780.5" y="632" font-family="Liberation Sans, sans-serif" font-size="21.7" fill="#000">VaTh-VaO-VaO</text>
<line x1="67.3" y1="540.1" x2="73.4" y2="540.1" stroke="#5e6c84" stroke-width="1.6"/>
<text x="55.0" y="546.4" font-family="Liberation Sans, sans-serif" font-size="21.5" text-anchor="end" fill="#000">2</text>
<line x1="67.3" y1="607.1" x2="73.4" y2="607.1" stroke="#5e6c84" stroke-width="1.6"/>
<text x="55.0" y="613.4" font-family="Liberation Sans, sans-serif" font-size="21.5" text-anchor="end" fill="#000">1</text>
<line x1="67.3" y1="674.2" x2="73.4" y2="674.2" stroke="#5e6c84" stroke-width="1.6"/>
<text x="55.0" y="680.5" font-family="Liberation Sans, sans-serif" font-size="21.5" text-anchor="end" fill="#000">0</text>
<line x1="67.3" y1="741.2" x2="73.4" y2="741.2" stroke="#5e6c84" stroke-width="1.6"/>
<text x="55.0" y="747.5" font-family="Liberation Sans, sans-serif" font-size="21.5" text-anchor="end" fill="#000">-1</text>
<line x1="67.3" y1="808.3" x2="73.4" y2="808.3" stroke="#5e6c84" stroke-width="1.6"/>
<text x="55.0" y="814.6" font-family="Liberation Sans, sans-serif" font-size="21.5" text-anchor="end" fill="#000">-2</text>
<line x1="73.4" y1="808.3" x2="73.4" y2="814.5" stroke="#5e6c84" stroke-width="1.6"/>
<text x="73.4" y="840.5" font-family="Liberation Sans, sans-serif" font-size="21.5" text-anchor="middle" fill="#000">0</text>
<line x1="290.1" y1="808.3" x2="290.1" y2="814.5" stroke="#5e6c84" stroke-width="1.6"/>
<text x="290.1" y="840.5" font-family="Liberation Sans, sans-serif" font-size="21.5" text-anchor="middle" fill="#000">0.5</text>
<line x1="506.9" y1="808.3" x2="506.9" y2="814.5" stroke="#5e6c84" stroke-width="1.6"/>
<text x="506.9" y="840.5" font-family="Liberation Sans, sans-serif" font-size="21.5" text-anchor="middle" fill="#000">1</text>
<line x1="723.6" y1="808.3" x2="723.6" y2="814.5" stroke="#5e6c84" stroke-width="1.6"/>
<text x="723.6" y="840.5" font-family="Liberation Sans, sans-serif" font-size="21.5" text-anchor="middle" fill="#000">1.5</text>
<line x1="940.4" y1="808.3" x2="940.4" y2="814.5" stroke="#5e6c84" stroke-width="1.6"/>
<text x="940.4" y="840.5" font-family="Liberation Sans, sans-serif" font-size="21.5" text-anchor="middle" fill="#000">2</text>
<line x1="73.4" y1="540.1" x2="940.4" y2="540.1" stroke="#000" stroke-width="2"/>
<line x1="940.4" y1="540.1" x2="940.4" y2="808.3" stroke="#000" stroke-width="2"/>
<line x1="73.4" y1="539.4" x2="73.4" y2="809.0" stroke="#121a28" stroke-width="1.9"/>
<line x1="72.7" y1="808.3" x2="940.4" y2="808.3" stroke="#121a28" stroke-width="1.9"/>
<text x="507.1" y="858.4" font-family="Liberation Sans, sans-serif" font-size="21.2" text-anchor="middle" fill="#000">Figure size</text>
<text x="506.5" y="883.6" font-family="Liberation Sans, sans-serif" font-weight="bold" font-size="26.8" text-anchor="middle" fill="#000">(b)</text>
<g transform="translate(27.8,674.2) rotate(-90)"><text x="0" y="0" font-family="Liberation Sans, sans-serif" font-size="21.3" text-anchor="middle" fill="#000"><tspan font-style="italic">J</tspan><tspan font-size="14" dy="5">f</tspan><tspan dy="-5"> (eV)</tspan></text></g>
</svg></body></html>
